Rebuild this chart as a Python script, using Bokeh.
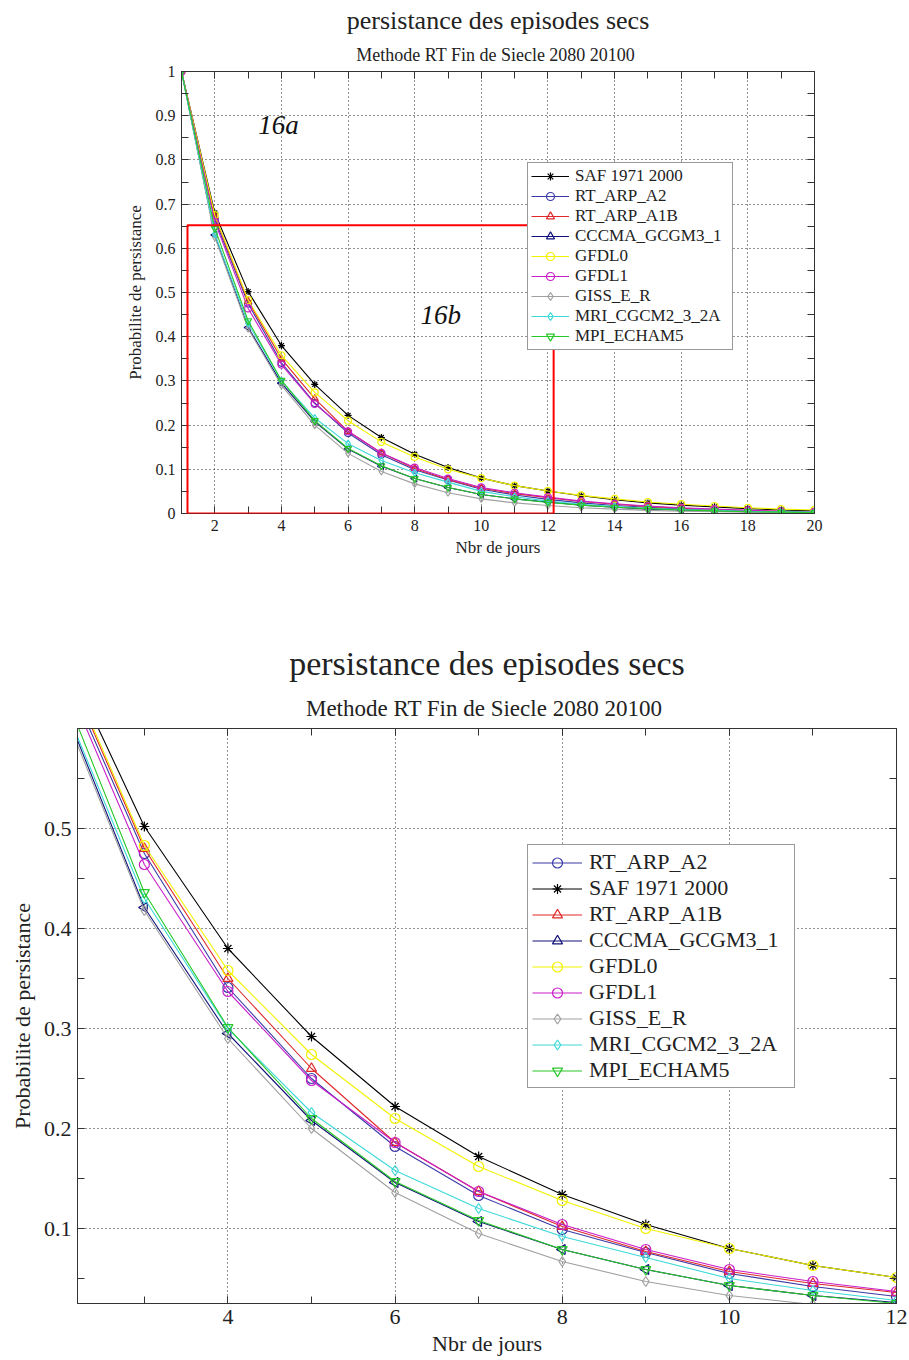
import numpy as np
from bokeh.plotting import figure
from bokeh.models import (Range1d, SingleIntervalTicker, LinearAxis, Title, Legend,
                          LegendItem, CustomJSTickFormatter, BoxAnnotation, Label, Spacer)
from bokeh.layouts import column, row
from bokeh.embed import file_html
from bokeh.resources import INLINE

# ---------------- data ----------------
DAYS = list(range(1, 21))
SAF      = [1, 0.680, 0.502, 0.380, 0.292, 0.222, 0.172, 0.134, 0.104, 0.080, 0.063, 0.051, 0.040, 0.031, 0.024, 0.019, 0.015, 0.011, 0.008, 0.006]
RT_A2    = [1, 0.665, 0.475, 0.341, 0.250, 0.182, 0.133, 0.099, 0.076, 0.055, 0.042, 0.032, 0.024, 0.018, 0.014, 0.010, 0.008, 0.006, 0.004, 0.003]
RT_A1B   = [1, 0.672, 0.480, 0.350, 0.260, 0.186, 0.137, 0.102, 0.077, 0.057, 0.045, 0.036, 0.027, 0.021, 0.016, 0.012, 0.009, 0.007, 0.005, 0.004]
CCCMA    = [1, 0.630, 0.421, 0.295, 0.208, 0.146, 0.107, 0.079, 0.059, 0.043, 0.033, 0.026, 0.019, 0.014, 0.010, 0.008, 0.006, 0.004, 0.003, 0.002]
GFDL0    = [1, 0.675, 0.483, 0.358, 0.274, 0.210, 0.162, 0.128, 0.100, 0.080, 0.063, 0.051, 0.041, 0.033, 0.026, 0.021, 0.017, 0.013, 0.010, 0.008]
GFDL1    = [1, 0.660, 0.464, 0.337, 0.248, 0.186, 0.137, 0.104, 0.079, 0.059, 0.047, 0.037, 0.028, 0.022, 0.017, 0.013, 0.010, 0.007, 0.005, 0.004]
GISS     = [1, 0.625, 0.418, 0.290, 0.200, 0.136, 0.095, 0.067, 0.047, 0.033, 0.024, 0.018, 0.013, 0.010, 0.007, 0.005, 0.004, 0.003, 0.002, 0.001]
MRI      = [1, 0.632, 0.430, 0.300, 0.216, 0.158, 0.120, 0.092, 0.071, 0.050, 0.038, 0.028, 0.021, 0.016, 0.012, 0.009, 0.007, 0.005, 0.004, 0.003]
MPI      = [1, 0.645, 0.436, 0.301, 0.210, 0.147, 0.108, 0.079, 0.059, 0.043, 0.033, 0.025, 0.019, 0.014, 0.011, 0.008, 0.006, 0.004, 0.003, 0.002]

NAMES = ["SAF 1971 2000", "RT_ARP_A2", "RT_ARP_A1B", "CCCMA_GCGM3_1", "GFDL0",
         "GFDL1", "GISS_E_R", "MRI_CGCM2_3_2A", "MPI_ECHAM5"]
VALUES = [SAF, RT_A2, RT_A1B, CCCMA, GFDL0, GFDL1, GISS, MRI, MPI]
BOTTOM_LEGEND_ORDER = ["RT_ARP_A2", "SAF 1971 2000", "RT_ARP_A1B", "CCCMA_GCGM3_1", "GFDL0",
                       "GFDL1", "GISS_E_R", "MRI_CGCM2_3_2A", "MPI_ECHAM5"]

TITLE = "persistance des episodes secs"
SUBTITLE = "Methode RT  Fin de Siecle 2080 20100"
XLABEL = "Nbr de jours"
YLABEL = "Probabilite de persistance"

# zoom region shown in the lower chart (drawn as red box in the upper chart)
ZOOM_BOX = dict(left=1.18, right=12.17, bottom=0.0, top=0.652)
LABEL_A = (3.91, 0.88, "16a")
LABEL_B = (8.78, 0.448, "16b")

# ---------------- style ----------------
STYLE = {
    "SAF 1971 2000":  ("#000000", "asterisk", 0),
    "RT_ARP_A2":      ("#3a3aa8", "circle", 0),
    "RT_ARP_A1B":     ("#e02828", "triangle", 0),
    "CCCMA_GCGM3_1":  ("#10107a", "triangle", 90),
    "GFDL0":          ("#f2f200", "circle", 0),
    "GFDL1":          ("#c81ec8", "circle", 0),
    "GISS_E_R":       ("#a0a0a0", "diamond", 0),
    "MRI_CGCM2_3_2A": ("#3cd8d8", "diamond", 0),
    "MPI_ECHAM5":     ("#28c828", "inverted_triangle", 0),
}
FONT = "Liberation Serif"
FMT = CustomJSTickFormatter(code="return (Math.round(tick*10)/10).toString();")


def make_fig(width, height, xr, yr, borders, fs):
    p = figure(width=width, height=height, x_range=Range1d(*xr), y_range=Range1d(*yr),
               output_backend="svg", toolbar_location=None, title_location=None,
               min_border_left=borders[0], min_border_right=borders[1],
               min_border_top=borders[2], min_border_bottom=borders[3],
               background_fill_color="white", border_fill_color="white")
    xt = SingleIntervalTicker(interval=2, num_minor_ticks=2)
    yt = SingleIntervalTicker(interval=0.1, num_minor_ticks=2)
    p.xaxis.ticker = xt
    p.yaxis.ticker = yt
    p.yaxis.formatter = FMT
    p.xgrid.ticker = xt
    p.ygrid.ticker = yt
    for g in (p.xgrid, p.ygrid):
        g.grid_line_color = "black"
        g.grid_line_dash = "1 3"
        g.grid_line_alpha = 0.85
    for ax in (p.xaxis, p.yaxis):
        ax.major_tick_in = 7
        ax.major_tick_out = 0
        ax.minor_tick_in = 7
        ax.minor_tick_out = 0
        ax.axis_line_color = "#333333"
        ax.major_tick_line_color = "#333333"
        ax.minor_tick_line_color = "#333333"
        ax.major_label_text_font = FONT
        ax.major_label_text_font_size = f"{fs['tick']}px"
        ax.major_label_text_color = "#222222"
        ax.axis_label_text_font = FONT
        ax.axis_label_text_font_size = f"{fs['label']}px"
        ax.axis_label_text_font_style = "normal"
        ax.axis_label_text_color = "#222222"
        ax.major_label_standoff = 6
    p.xaxis.axis_label_standoff = 4
    p.yaxis.axis_label_standoff = fs['ylab_gap']
    p.xaxis.axis_label = XLABEL
    p.yaxis.axis_label = YLABEL
    for loc, tk in (("above", xt), ("right", yt)):
        a = LinearAxis(ticker=tk, major_label_text_font_size="1px", major_label_text_color=None,
                       major_tick_in=7, major_tick_out=0, minor_tick_in=7, minor_tick_out=0,
                       axis_line_color="#333333", major_tick_line_color="#333333",
                       minor_tick_line_color="#333333", major_label_standoff=0)
        p.add_layout(a, loc)
    p.outline_line_color = "#333333"
    p.add_layout(Title(text=SUBTITLE, align="center", text_font=FONT,
                       text_font_size=f"{fs['sub']}px", text_font_style="normal",
                       text_color="#222222", standoff=fs['sub_gap']), "above")
    p.add_layout(Title(text=TITLE, align="center", text_font=FONT,
                       text_font_size=f"{fs['title']}px", text_font_style="normal",
                       text_color="#222222", standoff=fs['title_gap']), "above")
    return p


def draw_series(p, msize):
    rends = {}
    for name, vals in zip(NAMES, VALUES):
        color, marker, ang = STYLE[name]
        lr = p.line(DAYS, vals, line_color=color, line_width=1.1)
        sr = p.scatter(DAYS, vals, marker=marker, angle=ang, angle_units="deg", size=msize,
                       line_color=color, fill_color=None, line_width=1.2)
        rends[name] = [lr, sr]
    return rends


def add_legend(p, rends, order, loc, fs, item_h, glyph_w, pad, label_w, standoff):
    items = [LegendItem(label=n, renderers=rends[n]) for n in order]
    lg = Legend(items=items, location=loc, label_text_font=FONT,
                label_text_font_size=f"{fs}px", label_text_color="#222222",
                label_height=item_h, glyph_height=item_h, glyph_width=glyph_w,
                label_width=label_w, spacing=0, padding=pad, margin=0,
                label_standoff=standoff,
                border_line_color="#333333", border_line_width=1,
                background_fill_color="white", background_fill_alpha=1.0)
    p.add_layout(lg)


# ---------------- upper chart (16a) ----------------
# canvas starts at x=104 (spacer); frame from 181 to 814
p1 = make_fig(723, 600, (1, 20), (0, 1), (77, 13, 71, 87),
              dict(tick=16, label=17, sub=18, title=26, sub_gap=13, title_gap=4, ylab_gap=8))
r1 = draw_series(p1, 7)
add_legend(p1, r1, NAMES, (346, 163), 17, 20, 38, 3, 154, 6)
p1.add_layout(BoxAnnotation(fill_alpha=0, line_color="red", line_alpha=1.0, line_width=2,
                            **ZOOM_BOX))
for (lx, ly, lt) in (LABEL_A, LABEL_B):
    p1.add_layout(Label(x=lx, y=ly, text=lt, text_font=FONT, text_font_size="27px",
                        text_font_style="italic", text_align="center",
                        text_baseline="middle", text_color="#111111"))

# ---------------- lower chart (16b) ----------------
p2 = make_fig(909, 760, (2.2, 12), (0.025, 0.6), (77, 13, 128, 57),
              dict(tick=22, label=22, sub=23, title=34, sub_gap=15, title_gap=10, ylab_gap=6))
r2 = draw_series(p2, 10)
add_legend(p2, r2, BOTTOM_LEGEND_ORDER, (450, 215), 22, 25, 50, 4, 201, 7)

layout = column(row(Spacer(width=104, height=600), p1), p2, spacing=0)
open("out.html", "w").write(file_html(layout, INLINE))
